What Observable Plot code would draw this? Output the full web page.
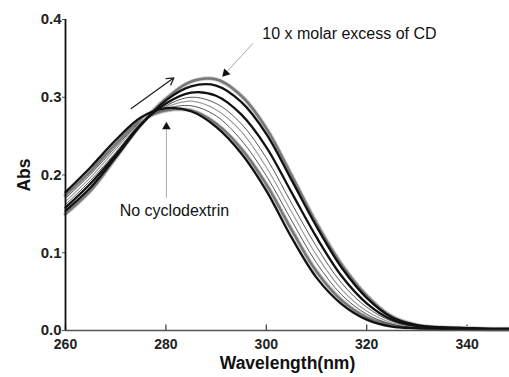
<!DOCTYPE html>
<html>
<head>
<meta charset="utf-8">
<script src="https://cdn.jsdelivr.net/npm/d3@7"></script>
<script src="https://cdn.jsdelivr.net/npm/@observablehq/plot@0.6"></script>
<style>
  html, body { margin: 0; padding: 0; background: #fff; }
  #chart { width: 509px; height: 377px; }
</style>
</head>
<body>
<div id="chart"></div>
<script>
// Wavelength grid (nm)
const wavelengths = [260,265,270,275,280,285,290,295,300,305,310,315,320,325,330,335,340,345,350];

// Absorbance spectra, from "No cyclodextrin" (A) to "10 x molar excess of CD" (H)
const specA = [0.178,0.210,0.245,0.274,0.286,0.282,0.262,0.228,0.180,0.120,0.068,0.034,0.014,0.005,0.003,0.002,0.001,0.001,0.001];
const specB = [0.174,0.205,0.240,0.270,0.283,0.283,0.266,0.234,0.188,0.130,0.076,0.039,0.017,0.007,0.003,0.002,0.002,0.001,0.001];
const specC = [0.170,0.201,0.236,0.268,0.285,0.289,0.276,0.245,0.199,0.142,0.087,0.046,0.021,0.008,0.004,0.002,0.002,0.001,0.001];
const specD = [0.166,0.197,0.233,0.267,0.287,0.295,0.284,0.256,0.210,0.153,0.097,0.053,0.025,0.010,0.005,0.003,0.002,0.002,0.001];
const specE = [0.162,0.193,0.229,0.266,0.289,0.300,0.292,0.266,0.222,0.164,0.108,0.061,0.030,0.012,0.005,0.003,0.002,0.002,0.001];
const specF = [0.158,0.189,0.226,0.265,0.292,0.306,0.302,0.278,0.236,0.178,0.120,0.070,0.035,0.014,0.006,0.004,0.003,0.002,0.002];
const specG = [0.154,0.184,0.223,0.264,0.296,0.314,0.315,0.294,0.253,0.194,0.134,0.081,0.042,0.017,0.007,0.004,0.003,0.002,0.002];
const specH = [0.150,0.180,0.222,0.265,0.298,0.320,0.323,0.302,0.260,0.200,0.138,0.085,0.045,0.018,0.007,0.004,0.003,0.002,0.002];

const xTicks = [260, 280, 300, 320, 340];
const yTicks = [0.0, 0.1, 0.2, 0.3, 0.4];

// Annotation texts and arrows (data units)
const noteTexts = [
  {x: 299.2, y: 0.382, text: "10 x molar excess of CD"},
  {x: 270.8, y: 0.154, text: "No cyclodextrin"}
];
const solidArrow = [{x1: 273.1, y1: 0.2855, x2: 281.6, y2: 0.325}];
const greyArrows = [
  {x1: 297.3, y1: 0.369, x2: 291.9, y2: 0.331},
  {x1: 280.1, y1: 0.171, x2: 280.1, y2: 0.262}
];

function toRows(vals) { return wavelengths.map((w, i) => ({w, a: vals[i]})); }

const styles = {
  thickBlack: {stroke: "#111", strokeWidth: 2.3},
  fuzzyGrey: {stroke: "#777", strokeWidth: 2.6, strokeDasharray: "2,1.6"},
  thinDark: {stroke: "#444", strokeWidth: 0.9},
  thinGrey: {stroke: "#9a9a9a", strokeWidth: 1.1}
};

const series = [
  [specB, styles.fuzzyGrey],
  [specH, styles.fuzzyGrey],
  [specC, styles.thinDark],
  [specD, styles.thinGrey],
  [specE, styles.thinDark],
  [specA, styles.thickBlack],
  [specF, styles.thickBlack],
  [specG, styles.thickBlack]
];

const lineMarks = [];
for (const [vals, st] of series) {
  if (st === styles.fuzzyGrey) {
    lineMarks.push(Plot.line(toRows(vals), {x: "w", y: "a", curve: "catmull-rom", stroke: "#cfcfcf", strokeWidth: 4.4}));
  }
  lineMarks.push(Plot.line(toRows(vals), {x: "w", y: "a", curve: "catmull-rom", ...st}));
}

const chart = Plot.plot({
  width: 509,
  height: 377,
  marginLeft: 65,
  marginRight: 0,
  marginTop: 19,
  marginBottom: 47,
  style: {fontFamily: "'Liberation Sans', Arial, sans-serif", background: "#fff"},
  x: {domain: [260, 348.45]},
  y: {domain: [0, 0.4]},
  marks: [
    Plot.axisY({ticks: yTicks, tickFormat: d3.format(".1f"), tickSize: 3, tickPadding: 1,
      fontSize: 15, fontWeight: "bold", fill: "#222", stroke: "#555",
      label: "Abs", labelAnchor: "center", labelOffset: 48, labelArrow: "none"}),
    Plot.axisX({ticks: xTicks, tickSize: 0, tickPadding: 9,
      fontSize: 14, fontWeight: "bold", fill: "#222",
      label: "Wavelength(nm)", labelAnchor: "center", labelOffset: 38, labelArrow: "none"}),
    Plot.ruleX(xTicks, {y1: 0, y2: 0.007, stroke: "#444", strokeWidth: 1.3}),
    ...lineMarks,
    Plot.ruleY([0], {stroke: "#555", strokeWidth: 1.6}),
    Plot.ruleX([260], {stroke: "#111", strokeWidth: 1.8}),
    Plot.arrow(solidArrow, {x1: "x1", y1: "y1", x2: "x2", y2: "y2", stroke: "#222", strokeWidth: 1.3, headLength: 9}),
    Plot.arrow(greyArrows, {x1: "x1", y1: "y1", x2: "x2", y2: "y2", stroke: "#aaa", strokeWidth: 1, headLength: 0}),
    Plot.dot(greyArrows, {x: "x2", y: "y2", symbol: "triangle", r: 3.2, fill: "#111",
      rotate: d => d.x1 === d.x2 ? 0 : -137}),
    Plot.text(noteTexts, {x: "x", y: "y", text: "text", textAnchor: "start", fontSize: 16, fill: "#111"})
  ]
});

// Style axis title fonts
chart.querySelectorAll("[aria-label='y-axis label'] text, [aria-label='x-axis label'] text").forEach(t => {
  t.setAttribute("font-size", "17.5");
  t.setAttribute("font-weight", "bold");
  t.setAttribute("fill", "#111");
});
document.getElementById("chart").appendChild(chart);
</script>
</body>
</html>
